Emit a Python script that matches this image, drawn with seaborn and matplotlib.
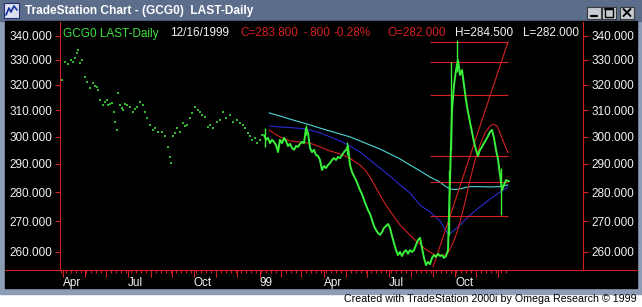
import numpy as np
import pandas as pd
import matplotlib
matplotlib.use("Agg")
import matplotlib.pyplot as plt
import seaborn as sns
from matplotlib.patches import Rectangle
from matplotlib.lines import Line2D
from matplotlib.ticker import NullLocator

# ---------------- data (trading-day index since 1998-03-30) ----------------
first_day = "1998-03-30"
last_day = "1999-12-16"

dot_day = [1, 4, 7, 10, 12, 14, 16, 17, 19, 21, 24, 26, 29, 32, 34, 36, 37, 39, 42, 44,
           46, 47, 49, 51, 53, 54, 56, 57, 59, 61, 62, 64, 66, 69, 72, 74, 76, 79, 82, 84,
           86, 89, 92, 94, 97, 101, 104, 107, 109, 110, 112, 114, 116, 119, 122, 124, 126,
           129, 131, 134, 137, 139, 141, 144, 147, 149, 152, 156, 159, 162, 165, 169, 172,
           176, 179, 182, 184, 187, 189, 191, 194, 196, 199, 201]
dot_price = [321.9, 329.2, 328.3, 330.0, 329.2, 330.8, 333.0, 334.1, 328.8, 330.0, 323.0,
             321.1, 318.7, 320.7, 319.5, 319.1, 317.9, 314.0, 312.0, 313.2, 314.0, 312.0,
             312.4, 312.8, 309.4, 305.5, 302.5, 316.7, 312.0, 310.9, 310.1, 312.4, 312.0,
             311.3, 309.4, 310.5, 311.3, 313.2, 312.0, 309.4, 307.0, 304.4, 302.5, 303.2,
             301.8, 301.8, 300.2, 296.2, 292.5, 290.3, 300.2, 301.4, 303.2, 301.8, 305.2,
             304.0, 304.4, 307.0, 309.0, 311.3, 310.1, 309.4, 308.2, 307.4, 303.6, 304.4,
             303.2, 305.5, 306.3, 309.4, 307.0, 308.2, 305.5, 306.3, 305.2, 304.4, 303.2,
             301.4, 300.2, 298.8, 299.5, 297.6, 298.8, 300.6]

close_day = list(range(203, 447, 2)) + [448]
close_price = [300.6, 298.8, 299.5, 297.6, 298.8, 298.0, 296.9, 294.3, 298.8, 297.6,
               299.5, 298.4, 296.5, 297.3, 295.8, 295.1, 296.5, 296.2, 297.3, 298.0,
               297.6, 303.2, 301.4, 295.8, 294.3, 295.1, 293.2, 292.9, 291.4, 287.8,
               289.2, 288.5, 289.6, 290.3, 291.4, 292.1, 291.4, 292.5, 292.1, 293.2,
               294.3, 295.1, 296.5, 289.6, 287.1, 285.6, 284.2, 282.5, 280.7, 279.3,
               277.3, 275.5, 273.8, 272.5, 270.5, 268.4, 267.1, 266.1, 265.5, 266.4,
               267.8, 268.4, 269.1, 267.8, 265.1, 262.8, 260.5, 258.9, 259.9, 258.6,
               259.9, 260.5, 259.3, 260.5, 259.9, 260.5, 262.2, 263.8, 264.5, 261.2,
               258.0, 255.7, 256.7, 256.0, 258.0, 258.9, 258.3, 259.3, 258.6, 258.9,
               258.0, 258.6, 260.5, 284.2, 310.1, 319.9, 325.9, 330.0, 323.9, 325.9,
               319.9, 314.0, 309.3, 305.5, 301.7, 298.0, 295.1, 292.9, 295.1, 296.2,
               297.6, 298.8, 300.2, 301.7, 302.5, 299.5, 295.1, 291.7, 286.0, 280.7,
               282.5, 284.2, 283.8]

spike_day = [204, 245, 286, 388, 390, 396, 440]
spike_low = [296.2, 300.6, 293.2, 265.5, 295.1, 325.0, 272.1]
spike_high = [303.2, 304.4, 298.0, 287.8, 329.2, 338.3, 288.5]

ma_day_cyan = [208, 219, 229, 239, 249, 259, 269, 279, 289, 299, 309, 319, 329, 339, 349,
               359, 369, 379, 384, 389, 394, 399, 404, 409, 419, 429, 439, 444, 447]
ma_cyan = [309.0, 307.8, 306.6, 305.5, 304.4, 303.2, 302.1, 301.0, 299.9, 298.4, 296.9,
           295.4, 293.6, 291.8, 289.6, 287.5, 285.3, 283.5, 282.1, 281.1, 280.9, 281.1,
           281.6, 281.9, 281.9, 281.8, 281.9, 282.3, 282.5]

ma_day_blue = [208, 219, 229, 239, 249, 259, 269, 279, 289, 299, 309, 319, 329, 339, 349,
               359, 369, 379, 384, 387, 391, 399, 409, 419, 429, 439, 444, 447]
ma_blue = [304.0, 303.6, 303.4, 303.1, 302.5, 301.4, 299.9, 298.4, 296.5, 294.3, 291.4,
           288.5, 285.6, 282.5, 279.7, 275.5, 273.2, 270.1, 267.4, 265.8, 266.4, 268.8,
           272.1, 274.9, 277.6, 280.0, 281.1, 281.8]

ma_day_red = [208, 214, 219, 229, 239, 249, 259, 269, 279, 289, 294, 299, 304, 309, 314,
              319, 324, 329, 334, 339, 344, 349, 354, 359, 364, 369, 374, 379, 384, 387,
              389, 392, 395, 399, 402, 405, 409, 414, 419, 424, 429, 432, 436, 439, 443, 447]
ma_red = [302.5, 301.0, 299.9, 298.4, 298.0, 297.6, 296.2, 294.7, 293.6, 292.1, 290.7,
          289.6, 287.8, 285.3, 282.1, 279.0, 276.0, 273.5, 271.1, 268.8, 267.1, 265.4,
          263.8, 262.5, 260.9, 259.9, 258.9, 258.8, 258.9, 259.6, 260.9, 262.8, 265.4,
          269.7, 273.8, 277.9, 284.2, 291.4, 296.9, 301.4, 304.0, 304.7, 304.0, 301.4,
          297.6, 294.0]

fib_levels = [337.5, 329.1, 315.9, 292.9, 283.4, 271.8]
fib_from, fib_to = 369, 447
trend_day = [372, 447]
trend_price = [255.0, 337.5]

y_ticks = [260, 270, 280, 290, 300, 310, 320, 330, 340]
quarter_labels = {4: "Apr", 7: "Jul", 10: "Oct", 1: "99"}

title = "TradeStation Chart - (GCG0)  LAST-Daily"
header = [("GCG0 LAST-Daily", "green"), ("12/16/1999", "white"), ("C=283.800", "red"),
          ("-.800", "red"), ("-0.28%", "red"), ("O=282.000", "red"),
          ("H=284.500", "white"), ("L=282.000", "white")]
footer = "Created with TradeStation 2000i by Omega Research \u00a9 1999"

# ---------------- style ----------------
sns.set_theme(style="dark")
plt.rcParams["font.family"] = ["Liberation Sans", "DejaVu Sans"]

RED = "#d42020"
GREEN = "#3af03a"
DOTGREEN = "#34b834"
CYAN = "#4fd8d8"
BLUE = "#2a2ad2"
WHITE = "#f2f2f2"
FS = 8.5

W, H = 642, 307
fig = plt.figure(figsize=(W / 100, H / 100), dpi=100)
fig.patch.set_facecolor("white")

deco = fig.add_axes([0, 0, 1, 1])
deco.set_xlim(0, W)
deco.set_ylim(H, 0)
deco.axis("off")

deco.add_patch(Rectangle((0, 0), W, 294, color="#8d9db5", zorder=0))
deco.add_patch(Rectangle((0, 0), W, 20.5, color="#5b6d8a", zorder=1))
deco.add_patch(Rectangle((5, 21), 632, 267, color="black", zorder=1))
deco.add_line(Line2D([5, 637], [270, 270], color=RED, lw=0.8, zorder=3))

# icon
deco.add_patch(Rectangle((4, 3), 15, 15, facecolor="#dde0ee", edgecolor="#203070", lw=0.8, zorder=2))
deco.add_line(Line2D([6, 9, 11, 14, 17], [15, 8, 12, 6, 10], color="#1030a0", lw=1.2, zorder=3))

# window buttons
for x0 in (587, 602, 620):
    deco.add_patch(Rectangle((x0, 6.5), 14, 12.5, facecolor="#c6cad3", edgecolor="#3a3a3a", lw=0.8, zorder=2))
deco.add_line(Line2D([591, 597], [15.5, 15.5], color="black", lw=1.6, zorder=3))
deco.add_patch(Rectangle((605, 9), 8, 7.5, fill=False, edgecolor="black", lw=1.0, zorder=3))
deco.add_line(Line2D([605, 613], [9.3, 9.3], color="black", lw=1.6, zorder=3))
deco.add_line(Line2D([623.5, 630.5], [9, 16], color="black", lw=1.4, zorder=3))
deco.add_line(Line2D([623.5, 630.5], [16, 9], color="black", lw=1.4, zorder=3))

deco.text(25, 11, title, color="white", fontweight="bold", fontsize=8.6, va="center", ha="left", zorder=3)

col_map = {"green": "#3ee03e", "white": WHITE, "red": RED}
header_x = [63, 170, 240, 304, 334, 388, 455, 523]
for (txt, c), hx in zip(header, header_x):
    deco.text(hx, 33.5, txt, color=col_map[c], fontsize=FS, va="center", ha="left", zorder=3)

deco.text(637, 299, footer, color="black", fontsize=7.7, va="center", ha="right", zorder=3)

# ---------------- main chart ----------------
ax = fig.add_axes([60 / W, (H - 270) / H, 523 / W, 248 / H], zorder=5)
ax.set_facecolor("none")
ax.grid(False)
ax.set_yscale("log")

ax.vlines(spike_day, spike_low, spike_high, color=GREEN, lw=1.0, zorder=6)
sns.lineplot(x=ma_day_cyan, y=ma_cyan, ax=ax, color=CYAN, lw=0.8, zorder=3)
sns.lineplot(x=ma_day_blue, y=ma_blue, ax=ax, color=BLUE, lw=0.8, zorder=3)
sns.lineplot(x=ma_day_red, y=ma_red, ax=ax, color=RED, lw=0.8, zorder=3)
ax.hlines(fib_levels, fib_from, fib_to, color=RED, lw=0.8, zorder=3)
sns.lineplot(x=trend_day, y=trend_price, ax=ax, color=RED, lw=0.8, zorder=3)
sns.scatterplot(x=dot_day, y=dot_price, ax=ax, color=DOTGREEN, s=2.0, marker="s",
                linewidth=0, legend=False, zorder=5)
sns.lineplot(x=close_day, y=close_price, ax=ax, color=GREEN, lw=1.4, zorder=5)

ax.set_xlim(-1, 522)
ax.set_ylim(254.14, 345.97)
ax.set_xlabel("")
ax.set_ylabel("")

for s in ("top", "bottom"):
    ax.spines[s].set_visible(False)
for s in ("left", "right"):
    ax.spines[s].set_color(RED)
    ax.spines[s].set_linewidth(0.8)

ax.set_yticks(y_ticks, labels=[f"{v:.3f}" for v in y_ticks])
ax.yaxis.set_minor_locator(NullLocator())
ax.tick_params(axis="y", which="major", left=True, right=True, labelleft=True,
               labelright=True, direction="out", length=3.8, width=0.8, color=RED,
               labelcolor=WHITE, labelsize=FS, pad=2)

dates = pd.bdate_range(first_day, last_day)
didx = pd.Series(np.arange(len(dates)), index=dates)
month_first = didx.groupby([dates.year, dates.month]).min()
month_pos = [int(v) for v in month_first.values if v > 0]
month_lab = []
for (yy, mm), v in month_first.items():
    if v > 0:
        month_lab.append(quarter_labels.get(mm, ""))
mondays = [int(didx[d]) for d in dates if d.weekday() == 0]

ax.set_xticks(month_pos, labels=month_lab)
ax.set_xticks(mondays, minor=True)
ax.tick_params(axis="x", which="major", bottom=True, direction="out", length=5,
               width=0.8, color=RED, labelcolor=WHITE, labelsize=FS, pad=0.0)
ax.tick_params(axis="x", which="minor", bottom=True, direction="out", length=2.5,
               width=0.8, color=RED)
for lbl in ax.get_xticklabels():
    lbl.set_horizontalalignment("left")

fig.savefig("out.png", dpi=100, facecolor=fig.get_facecolor())
